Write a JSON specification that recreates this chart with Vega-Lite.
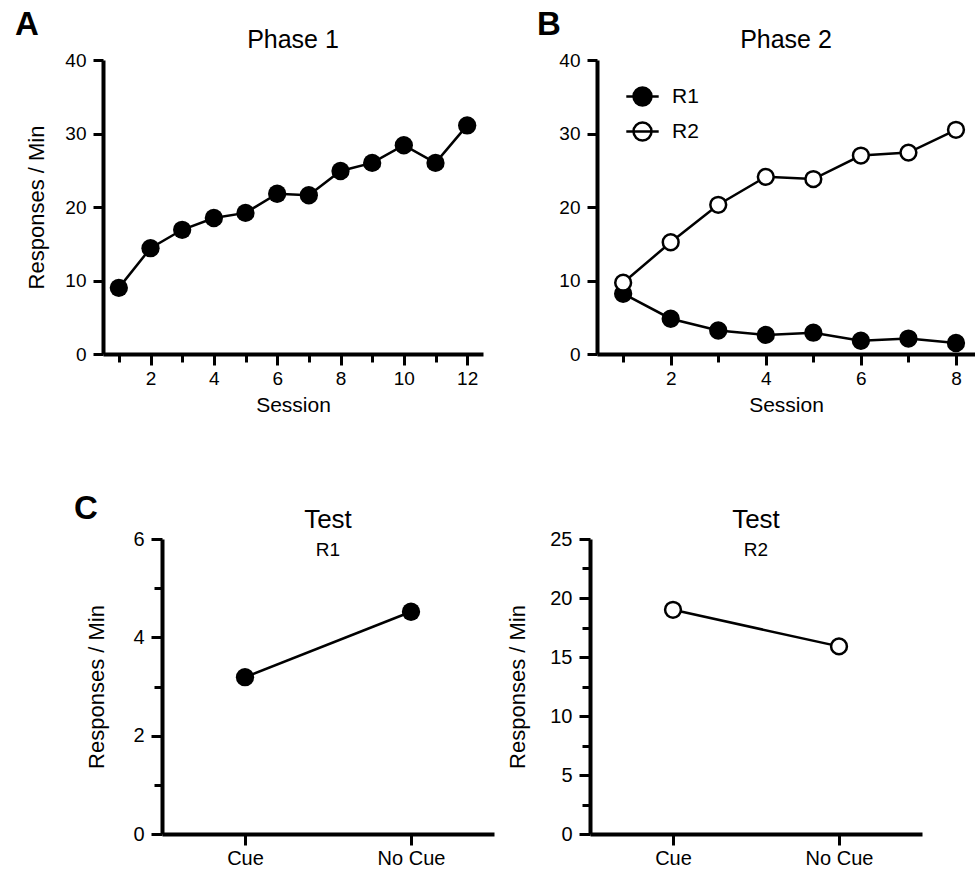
{
  "$schema": "https://vega.github.io/schema/vega-lite/v6.json",
  "padding": {"left": 15, "top": 9, "right": 0, "bottom": 0},
  "background": "white",
  "config": {
    "font": "Liberation Sans",
    "view": {"stroke": null},
    "axis": {"domainColor": "black", "domainWidth": 4, "tickColor": "black", "tickWidth": 3, "tickSize": 10, "labelColor": "black", "labelFontSize": 19, "labelPadding": 4, "titleColor": "black", "titleFontSize": 22, "titleFontWeight": "normal", "grid": false, "labelFont": "Liberation Sans", "titleFont": "Liberation Sans"},
    "axisY": {"labelPadding": 7},
    "title": {"fontSize": 25, "fontWeight": "normal", "color": "black", "subtitleColor": "black", "subtitleFontSize": 19, "font": "Liberation Sans", "subtitleFont": "Liberation Sans"}
  },
  "datasets": {
    "phase1": [
      {"session": 1, "rate": 9.0}, {"session": 2, "rate": 14.4}, {"session": 3, "rate": 16.9},
      {"session": 4, "rate": 18.5}, {"session": 5, "rate": 19.2}, {"session": 6, "rate": 21.8},
      {"session": 7, "rate": 21.6}, {"session": 8, "rate": 24.9}, {"session": 9, "rate": 26.0},
      {"session": 10, "rate": 28.4}, {"session": 11, "rate": 26.0}, {"session": 12, "rate": 31.1}
    ],
    "phase2": [
      {"session": 1, "response": "R1", "rate": 8.2}, {"session": 2, "response": "R1", "rate": 4.8},
      {"session": 3, "response": "R1", "rate": 3.2}, {"session": 4, "response": "R1", "rate": 2.6},
      {"session": 5, "response": "R1", "rate": 2.9}, {"session": 6, "response": "R1", "rate": 1.8},
      {"session": 7, "response": "R1", "rate": 2.1}, {"session": 8, "response": "R1", "rate": 1.5},
      {"session": 1, "response": "R2", "rate": 9.7}, {"session": 2, "response": "R2", "rate": 15.2},
      {"session": 3, "response": "R2", "rate": 20.3}, {"session": 4, "response": "R2", "rate": 24.1},
      {"session": 5, "response": "R2", "rate": 23.8}, {"session": 6, "response": "R2", "rate": 27.0},
      {"session": 7, "response": "R2", "rate": 27.4}, {"session": 8, "response": "R2", "rate": 30.5}
    ],
    "test": [
      {"response": "R1", "condition": "Cue", "rate": 3.19},
      {"response": "R1", "condition": "No Cue", "rate": 4.52},
      {"response": "R2", "condition": "Cue", "rate": 19.0},
      {"response": "R2", "condition": "No Cue", "rate": 15.9}
    ],
    "empty": []
  },
  "bounds": "flush",
  "spacing": 479,
  "resolve": {"legend": {"fill": "independent"}},
  "vconcat": [
    {
      "bounds": "flush",
      "spacing": 0,
      "resolve": {"legend": {"fill": "independent"}},
      "hconcat": [
        {
          "width": 59, "height": 294,
          "data": {"name": "empty"},
          "mark": {"type": "point", "opacity": 0},
          "title": {"text": "A", "anchor": "start", "frame": "group", "fontSize": 33, "fontWeight": "bold", "dx": -29, "offset": 18}
        },
        {
          "width": 380, "height": 294,
          "title": {"text": "Phase 1", "offset": -2},
          "data": {"name": "phase1"},
          "encoding": {
            "x": {"field": "session", "type": "quantitative", "scale": {"domain": [0.5, 12.5], "nice": false, "zero": false},
              "axis": {"values": [1, 2, 3, 4, 5, 6, 7, 8, 9, 10, 11, 12], "labelExpr": "datum.value % 2 == 0 ? datum.label : ''", "tickSize": {"condition": {"test": "datum.value % 2 == 0", "value": 11}, "value": 8}, "title": "Session", "titlePadding": 6, "titleFontSize": 21}},
            "y": {"field": "rate", "type": "quantitative", "scale": {"domain": [0, 40], "nice": false},
              "axis": {"values": [0, 10, 20, 30, 40], "title": "Responses / Min", "titlePadding": 16}}
          },
          "layer": [
            {"mark": {"type": "line", "color": "black", "strokeWidth": 2.5}},
            {"mark": {"type": "point", "filled": true, "color": "black", "size": 335, "opacity": 1}}
          ]
        },
        {
          "width": 114, "height": 294,
          "data": {"name": "empty"},
          "mark": {"type": "point", "opacity": 0},
          "title": {"text": "B", "anchor": "start", "frame": "group", "fontSize": 33, "fontWeight": "bold", "dx": 54, "offset": 18}
        },
        {
          "width": 378, "height": 294,
          "title": {"text": "Phase 2", "offset": -2},
          "data": {"name": "phase2"},
          "encoding": {
            "x": {"field": "session", "type": "quantitative", "scale": {"domain": [0.45, 8.4], "nice": false, "zero": false},
              "axis": {"values": [1, 2, 3, 4, 5, 6, 7, 8], "labelExpr": "datum.value % 2 == 0 ? datum.label : ''", "tickSize": {"condition": {"test": "datum.value % 2 == 0", "value": 11}, "value": 8}, "title": "Session", "titlePadding": 6, "titleFontSize": 21}},
            "y": {"field": "rate", "type": "quantitative", "scale": {"domain": [0, 40], "nice": false},
              "axis": {"values": [0, 10, 20, 30, 40], "title": null}}
          },
          "layer": [
            {"mark": {"type": "line", "color": "black", "strokeWidth": 2.5}, "encoding": {"detail": {"field": "response"}}},
            {"mark": {"type": "point", "stroke": "black", "strokeWidth": 2.5, "size": 250, "opacity": 1, "fillOpacity": 1},
              "encoding": {"fill": {"field": "response", "type": "nominal",
                "scale": {"domain": ["R1", "R2"], "range": ["black", "white"]},
                "legend": {"title": null, "orient": "none", "legendX": 35, "legendY": 26, "padding": 0,
                  "symbolType": "M-1.8,0H1.8M1,0A1,1,0,1,1,-1,0A1,1,0,1,1,1,0", "symbolSize": 324,
                  "symbolStrokeColor": "black", "symbolStrokeWidth": 2.5, "symbolOpacity": 1,
                  "labelFontSize": 21, "labelColor": "black", "labelOffset": 19, "rowPadding": 6, "labelFont": "Liberation Sans"}}}}
          ]
        }
      ]
    },
    {
      "bounds": "flush",
      "spacing": 96,
      "hconcat": [
        {
          "width": 22, "height": 295,
          "data": {"name": "empty"},
          "mark": {"type": "point", "opacity": 0},
          "title": {"text": "C", "anchor": "start", "frame": "group", "fontSize": 33, "fontWeight": "bold", "dx": 30, "offset": 13}
        },
        {
          "width": 332, "height": 295,
          "title": {"text": "Test", "subtitle": "R1", "fontSize": 26, "offset": -31, "subtitlePadding": 8},
          "data": {"name": "test"},
          "transform": [{"filter": "datum.response == 'R1'"}],
          "encoding": {
            "x": {"field": "condition", "type": "ordinal", "sort": ["Cue", "No Cue"], "scale": {"type": "point", "padding": 0.5},
              "axis": {"title": null, "labelAngle": 0, "labelFontSize": 20, "tickSize": 11, "labelPadding": 3}},
            "y": {"field": "rate", "type": "quantitative", "scale": {"domain": [0, 6], "nice": false},
              "axis": {"values": [0, 1, 2, 3, 4, 5, 6], "labelExpr": "datum.value % 2 == 0 ? datum.label : ''", "tickSize": {"condition": {"test": "datum.value % 2 == 0", "value": 11}, "value": 8}, "labelFontSize": 20, "title": "Responses / Min", "titlePadding": 24}}
          },
          "layer": [
            {"mark": {"type": "line", "color": "black", "strokeWidth": 2.5}},
            {"mark": {"type": "point", "filled": true, "color": "black", "size": 335, "opacity": 1}}
          ]
        },
        {
          "width": 332, "height": 295,
          "title": {"text": "Test", "subtitle": "R2", "fontSize": 26, "offset": -31, "subtitlePadding": 8},
          "data": {"name": "test"},
          "transform": [{"filter": "datum.response == 'R2'"}],
          "encoding": {
            "x": {"field": "condition", "type": "ordinal", "sort": ["Cue", "No Cue"], "scale": {"type": "point", "padding": 0.5},
              "axis": {"title": null, "labelAngle": 0, "labelFontSize": 20, "tickSize": 11, "labelPadding": 3}},
            "y": {"field": "rate", "type": "quantitative", "scale": {"domain": [0, 25], "nice": false},
              "axis": {"values": [0, 2.5, 5, 7.5, 10, 12.5, 15, 17.5, 20, 22.5, 25], "labelExpr": "datum.value % 5 == 0 ? datum.label : ''", "tickSize": {"condition": {"test": "datum.value % 5 == 0", "value": 11}, "value": 8}, "labelFontSize": 20, "title": "Responses / Min", "titlePadding": 20}}
          },
          "layer": [
            {"mark": {"type": "line", "color": "black", "strokeWidth": 2.5}},
            {"mark": {"type": "point", "filled": false, "fill": "white", "stroke": "black", "strokeWidth": 2.5, "size": 250, "opacity": 1, "fillOpacity": 1}}
          ]
        }
      ]
    }
  ]
}
